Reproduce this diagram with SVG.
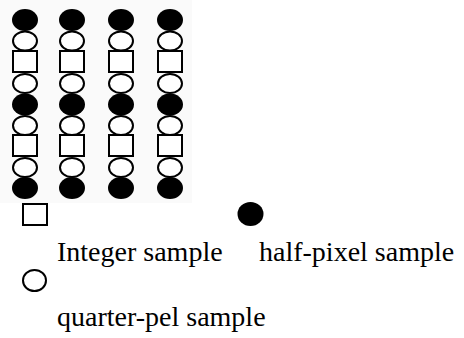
<svg xmlns="http://www.w3.org/2000/svg" xmlns:xlink="http://www.w3.org/1999/xlink" width="464" height="338" viewBox="0 0 464 338">
  <style>
    .half { fill: #000; }
    .quarter { fill: #fff; stroke: #000; stroke-width: 2; }
    .int { fill: #fff; stroke: #000; stroke-width: 2; }
    .label { font-family: "Liberation Serif", "Times New Roman", serif; font-size: 28px; fill: #000; }
  </style>
  <defs>
    <g id="column">
      <ellipse class="half" cx="0" cy="20" rx="13" ry="11"/>
      <ellipse class="quarter" cx="0" cy="41" rx="12" ry="9.5"/>
      <rect class="int" x="-12" y="51" width="24" height="21"/>
      <ellipse class="quarter" cx="0" cy="83.5" rx="12" ry="9.5"/>
      <ellipse class="half" cx="0" cy="104.5" rx="13" ry="11"/>
      <ellipse class="quarter" cx="0" cy="125.5" rx="12" ry="9.5"/>
      <rect class="int" x="-12" y="135" width="24" height="21"/>
      <ellipse class="quarter" cx="0" cy="167.5" rx="12" ry="9.5"/>
      <ellipse class="half" cx="0" cy="188" rx="13" ry="11"/>
    </g>
  </defs>
  <rect x="0" y="0" width="464" height="338" fill="#fff"/>
  <rect x="0" y="0" width="192" height="203" fill="#fafafa"/>
  <g id="grid">
    <use id="col1" xlink:href="#column" x="25" y="0"/>
    <use id="col2" xlink:href="#column" x="72" y="0"/>
    <use id="col3" xlink:href="#column" x="121" y="0"/>
    <use id="col4" xlink:href="#column" x="170" y="0"/>
  </g>
  <g id="connectors"></g>
  <g id="legend-integer">
    <rect class="int" x="23" y="204" width="24" height="21"/>
    <text class="label" x="57" y="261">Integer sample</text>
  </g>
  <g id="legend-half">
    <ellipse class="half" cx="250.5" cy="214" rx="13" ry="12"/>
    <text class="label" x="259" y="261">half-pixel sample</text>
  </g>
  <g id="legend-quarter">
    <ellipse class="quarter" cx="34.5" cy="280.5" rx="11.5" ry="10.5"/>
    <text class="label" x="57" y="326">quarter-pel sample</text>
  </g>
</svg>
